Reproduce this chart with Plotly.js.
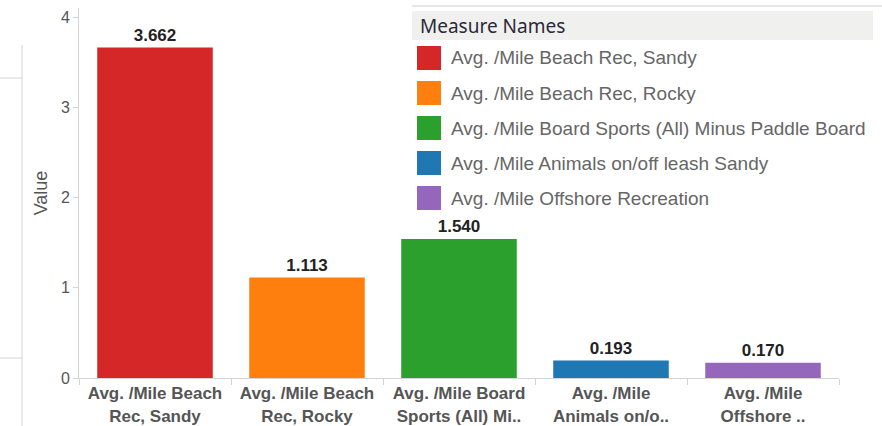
<!DOCTYPE html>
<html><head><meta charset="utf-8">
<script src="https://cdn.plot.ly/plotly-3.0.1.min.js"></script>
<style>html,body{margin:0;padding:0;background:#fff}#chart{width:882px;height:426px}</style>
</head><body><div id="chart"></div>
<script>
const measureNames = [
  "Avg. /Mile Beach Rec, Sandy",
  "Avg. /Mile Beach Rec, Rocky",
  "Avg. /Mile Board Sports (All) Minus Paddle Board",
  "Avg. /Mile Animals on/off leash Sandy",
  "Avg. /Mile Offshore Recreation"
];
const tickLabels = [
  "Avg. /Mile Beach<br>Rec, Sandy",
  "Avg. /Mile Beach<br>Rec, Rocky",
  "Avg. /Mile Board<br>Sports (All) Mi..",
  "Avg. /Mile<br>Animals on/o..",
  "Avg. /Mile<br>Offshore .."
];
const values = [3.662, 1.113, 1.540, 0.193, 0.170];
const colors = ["#d62728", "#ff7f0e", "#2ca02c", "#1f77b4", "#9467bd"];

// pixel -> paper helpers (plot area: x 79..839, y 8..378)
const L = 79, R = 839, T = 8, B = 378;
const px = v => (v - L) / (R - L);
const py = v => (B - v) / (B - T);
const FONT = "Liberation Sans, Arial, sans-serif";

const trace = {
  type: "bar",
  x: measureNames,
  y: values,
  marker: {color: colors},
  text: values.map(v => v.toFixed(3)),
  textposition: "outside",
  cliponaxis: false,
  textfont: {family: FONT, size: 17, color: "#222", weight: "bold"},
  hoverinfo: "x+y"
};

const shapes = [];
const annotations = [];
// left decorative lines
shapes.push({type:"line", xref:"paper", yref:"paper", x0:px(22), x1:px(22), y0:py(45), y1:py(426), line:{color:"#d4d4d4", width:1}});
shapes.push({type:"line", xref:"paper", yref:"paper", x0:px(0), x1:px(22), y0:py(78), y1:py(78), line:{color:"#d4d4d4", width:1}});
shapes.push({type:"line", xref:"paper", yref:"paper", x0:px(0), x1:px(22), y0:py(358), y1:py(358), line:{color:"#d4d4d4", width:1}});
// legend background and title band
shapes.push({type:"rect", xref:"paper", yref:"paper", x0:px(412), x1:px(882), y0:py(8), y1:py(215), fillcolor:"#ffffff", line:{width:0}});
shapes.push({type:"line", xref:"paper", yref:"paper", x0:px(412), x1:px(882), y0:py(6), y1:py(6), line:{color:"#e6e6e6", width:2}});
shapes.push({type:"rect", xref:"paper", yref:"paper", x0:px(412), x1:px(873), y0:py(11), y1:py(40), fillcolor:"#f0f0ee", line:{width:0}});
annotations.push({xref:"paper", yref:"paper", x:px(418), y:py(26), xanchor:"left", yanchor:"middle", showarrow:false,
  text:"Measure Names", font:{family:"Noto Sans, Open Sans, sans-serif", size:19, color:"#2a2a3a"}});
measureNames.forEach((name, i) => {
  const cy = 58 + i * 35;
  shapes.push({type:"rect", xref:"paper", yref:"paper", x0:px(417), x1:px(441), y0:py(cy - 12), y1:py(cy + 12),
    fillcolor: colors[i], line:{color: colors[i], width:0}});
  annotations.push({xref:"paper", yref:"paper", x:px(449), y:py(cy), xanchor:"left", yanchor:"middle", showarrow:false,
    text:name, font:{family:FONT, size:19, color:"#666"}});
});

const layout = {
  width: 882, height: 426,
  margin: {l: L, r: 882 - R, t: T, b: 426 - B},
  paper_bgcolor: "#fff", plot_bgcolor: "#fff",
  showlegend: false,
  bargap: 0.24,
  font: {family: FONT, color: "#555"},
  xaxis: {
    type: "category",
    tickvals: measureNames, ticktext: tickLabels,
    range: [-0.5, 4.5],
    tickson: "boundaries", ticks: "outside", ticklen: 6, tickcolor: "#d4d4d4",
    showline: true, linecolor: "#d4d4d4",
    showgrid: false, zeroline: false,
    tickfont: {family: FONT, size: 17, color: "#555", weight: "bold"}
  },
  yaxis: {
    range: [0, 4.1],
    tickvals: [0, 1, 2, 3, 4],
    ticks: "outside", ticklen: 5, tickcolor: "#d4d4d4",
    showline: true, linecolor: "#d4d4d4",
    showgrid: false, zeroline: false,
    tickfont: {family: FONT, size: 16, color: "#555"},
    title: {text: "Value", font: {family: FONT, size: 18, color: "#555"}, standoff: 8}
  },
  shapes: shapes,
  annotations: annotations
};

Plotly.newPlot("chart", [trace], layout, {displayModeBar: false, staticPlot: true});
</script></body></html>
